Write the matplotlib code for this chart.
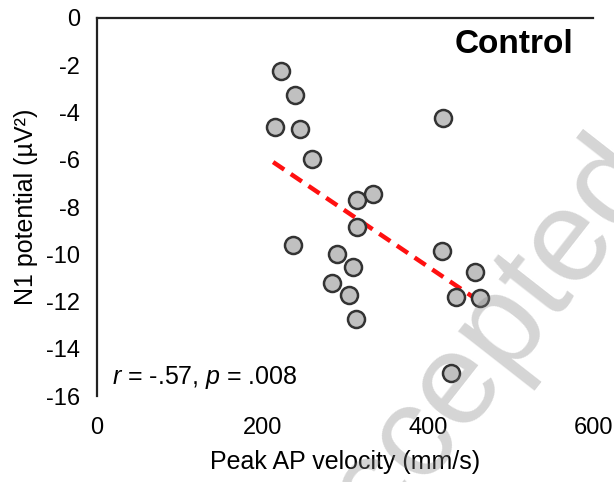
import numpy as np
import matplotlib.pyplot as plt

plt.rcParams['font.family'] = ['Liberation Sans', 'DejaVu Sans']
plt.rcParams['mathtext.fontset'] = 'custom'
plt.rcParams['mathtext.rm'] = 'Liberation Sans'
plt.rcParams['mathtext.it'] = 'Liberation Sans:italic'
plt.rcParams['axes.unicode_minus'] = False

# peak AP velocity (mm/s) and N1 potential (uV^2)
velocity = [223, 239, 215, 246, 260, 334, 314, 314, 419, 237,
            417, 290, 309, 284, 305, 313, 457, 434, 463, 428]
n1 = [-2.25, -3.26, -4.6, -4.7, -5.97, -7.46, -7.7, -8.85, -4.25, -9.6,
      -9.87, -10.0, -10.55, -11.2, -11.7, -12.75, -10.76, -11.8, -11.86, -15.0]

# trend line end points as drawn in the figure
trend_x = [213, 463]
trend_y = [-6.1, -12.0]

xticks = [0, 200, 400, 600]
yticks = list(range(-16, 1, 2))

fig = plt.figure(figsize=(6.14, 4.82), dpi=100)
ax = fig.add_axes([0.158, 0.178, 0.808, 0.785])

ax.plot(trend_x, trend_y, color='#ff1010', lw=3.2, dashes=(3, 1.8), zorder=2)
ax.scatter(velocity, n1, s=150, facecolor='#c0c0c0', edgecolor='#333333',
           linewidth=1.8, zorder=3)

ax.set_xlim(0, 600)
ax.set_ylim(-16, 0)
ax.set_xticks(xticks)
ax.set_yticks(yticks)
ax.tick_params(length=0, labelsize=17, pad=12)
ax.tick_params(axis='x', pad=15)

for s in ['right', 'bottom']:
    ax.spines[s].set_visible(False)
for s in ['left', 'top']:
    ax.spines[s].set_linewidth(1.6)
    ax.spines[s].set_color('#222222')

ax.set_xlabel('Peak AP velocity (mm/s)', fontsize=18, labelpad=8)
ax.set_ylabel('N1 potential (µV²)', fontsize=18, labelpad=6)

ax.text(0.96, 0.93, 'Control', transform=ax.transAxes, ha='right',
        va='center', fontsize=24, fontweight='bold')
ax.text(0.03, 0.05, r'$\it{r}$ = -.57, $\it{p}$ = .008', transform=ax.transAxes,
        ha='left', va='center', fontsize=18)

# watermark on top, semi-transparent
fig.text(0.538, -0.262, 'Accepted', rotation=52, rotation_mode='anchor',
         fontsize=94, color='#808080', alpha=0.33,
         ha='left', va='baseline', zorder=10)

fig.savefig('out.png', dpi=100)
